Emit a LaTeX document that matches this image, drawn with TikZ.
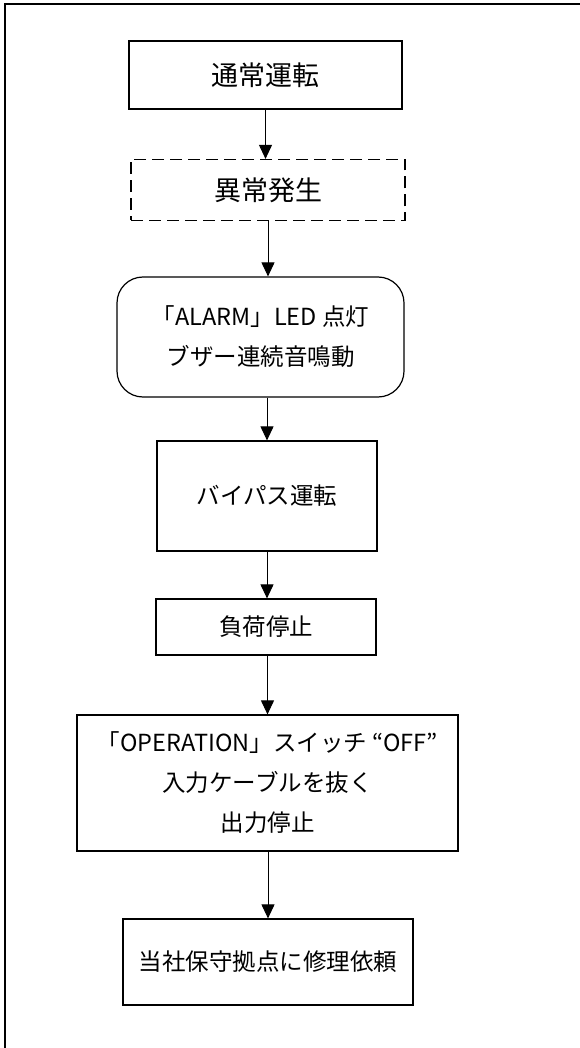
\documentclass[tikz,border=0pt]{standalone}
\usepackage{fontspec}
\setmainfont{Noto Sans CJK JP}
\usetikzlibrary{arrows.meta}

\begin{document}
\begin{tikzpicture}[x=1pt,y=-1pt,
    box/.style={draw, line width=1.2pt, inner sep=0pt, align=center, font=\fontsize{23.5}{40}\selectfont},
    bigbox/.style={box, font=\fontsize{27}{40}\selectfont},
    flow/.style={-{Triangle[length=14pt,width=13pt]}, line width=1pt}]
    \useasboundingbox (0,0) rectangle (580,1048);

    % Outer frame (only top and left edges show)
    \draw[line width=2pt] (5,1048) -- (5,4) -- (580,4);

    % Steps
    \node[bigbox, minimum width=273pt, minimum height=68pt] (normal) at (265.5,75) {通常運転};
    \node[bigbox, dash pattern=on 12pt off 6pt, minimum width=274pt, minimum height=61pt] (fault) at (268,190) {異常発生};
    \node[box, rounded corners=26pt, minimum width=287pt, minimum height=120pt] (alarm) at (260.5,337) {「ALARM」LED 点灯\\ブザー連続音鳴動};
    \node[box, minimum width=220pt, minimum height=110pt] (bypass) at (267,496) {バイパス運転};
    \node[box, minimum width=220pt, minimum height=56pt] (loadstop) at (266,627) {負荷停止};
    \node[box, minimum width=381pt, minimum height=136pt] (switchoff) at (267.5,783) {「OPERATION」スイッチ “OFF”\\入力ケーブルを抜く\\出力停止};
    \node[box, minimum width=290pt, minimum height=86pt] (repair) at (268,962) {当社保守拠点に修理依頼};

    % Arrows
    \draw[flow] (normal.south) -- (normal.south |- fault.north);
    \draw[flow] (fault.south) -- (fault.south |- alarm.north);
    \draw[flow] (alarm.south -| bypass.north) -- (bypass.north);
    \draw[flow] (bypass.south) -- (bypass.south |- loadstop.north);
    \draw[flow] (loadstop.south -| switchoff.north) -- (switchoff.north);
    \draw[flow] (switchoff.south -| repair.north) -- (repair.north);
\end{tikzpicture}
\end{document}
